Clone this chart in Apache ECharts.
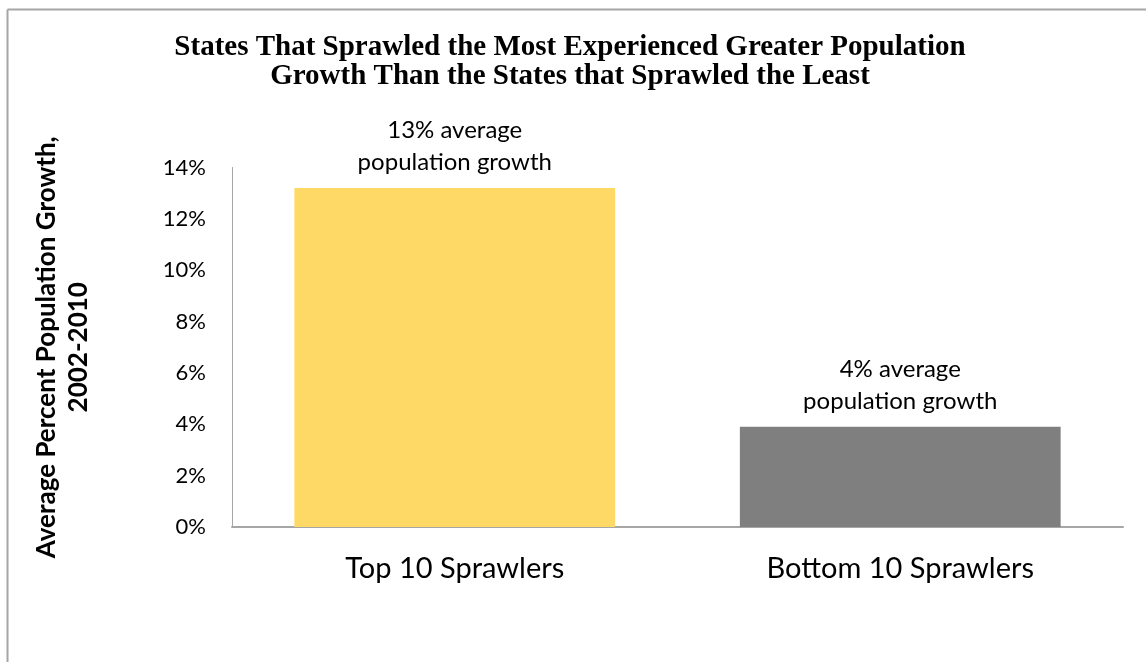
<!DOCTYPE html>
<html>
<head>
<meta charset="utf-8">
<title>Sprawl and Population Growth</title>
<script src="https://cdn.jsdelivr.net/npm/echarts@6/dist/echarts.min.js"></script>
<style>
  html, body { margin: 0; padding: 0; background: #ffffff; }
  #chart { width: 1146px; height: 662px; }
</style>
</head>
<body>
<div id="chart"></div>
<script>
// Groups of states and their average population growth (%), 2002-2010
const categories = ['Top 10 Sprawlers', 'Bottom 10 Sprawlers'];
const growthValues = [13.2, 3.9];
const barColors = ['#FFD966', '#7F7F7F'];
const yTicks = { min: 0, max: 14, interval: 2 };

const chart = echarts.init(document.getElementById('chart'), null, { renderer: 'canvas' });

const sans = 'Lato, "Open Sans", sans-serif';

chart.setOption({
  backgroundColor: '#ffffff',
  animation: false,
  title: {
    text: 'States That Sprawled the Most Experienced Greater Population\nGrowth Than the States that Sprawled the Least',
    left: 565,
    top: 28,
    textAlign: 'center',
    textStyle: {
      fontFamily: '"Liberation Serif", "Times New Roman", serif',
      fontWeight: 'bold',
      fontSize: 29,
      lineHeight: 29,
      color: '#000000'
    }
  },
  grid: { left: 232, right: 23, top: 167.5, bottom: 135 },
  xAxis: {
    type: 'category',
    data: categories,
    axisLine: { lineStyle: { color: '#A6A6A6', width: 2 } },
    axisTick: { show: false },
    axisLabel: {
      margin: 27,
      fontFamily: sans,
      fontSize: 29,
      color: '#000000'
    }
  },
  yAxis: {
    type: 'value',
    min: yTicks.min,
    max: yTicks.max,
    interval: yTicks.interval,
    splitLine: { show: false },
    axisTick: { show: false },
    axisLine: { show: true, lineStyle: { color: '#A6A6A6', width: 1 } },
    axisLabel: {
      margin: 26,
      fontFamily: sans,
      fontSize: 22,
      color: '#000000',
      formatter: '{value}%'
    },
    name: 'Average Percent Population Growth,\n2002-2010',
    nameLocation: 'middle',
    nameRotate: 90,
    nameGap: 137,
    nameTextStyle: {
      fontFamily: sans,
      fontWeight: 'bold',
      fontSize: 26,
      lineHeight: 32,
      color: '#000000'
    }
  },
  series: [{
    type: 'bar',
    barCategoryGap: '28%',
    data: growthValues.map((v, i) => ({ value: v, itemStyle: { color: barColors[i] } })),
    label: {
      show: true,
      position: 'top',
      distance: 10,
      fontFamily: sans,
      fontSize: 24,
      lineHeight: 32,
      color: '#000000',
      formatter: p => Math.round(p.value) + '% average\npopulation growth'
    }
  }],
  graphic: [
    // frame along the top and left edges
    { type: 'line', shape: { x1: 7.5, y1: 9.5, x2: 1146, y2: 9.5 }, style: { stroke: '#A6A6A6', lineWidth: 2 } },
    { type: 'line', shape: { x1: 7.5, y1: 9.5, x2: 7.5, y2: 662 }, style: { stroke: '#A6A6A6', lineWidth: 2 } }
  ]
});
</script>
</body>
</html>
